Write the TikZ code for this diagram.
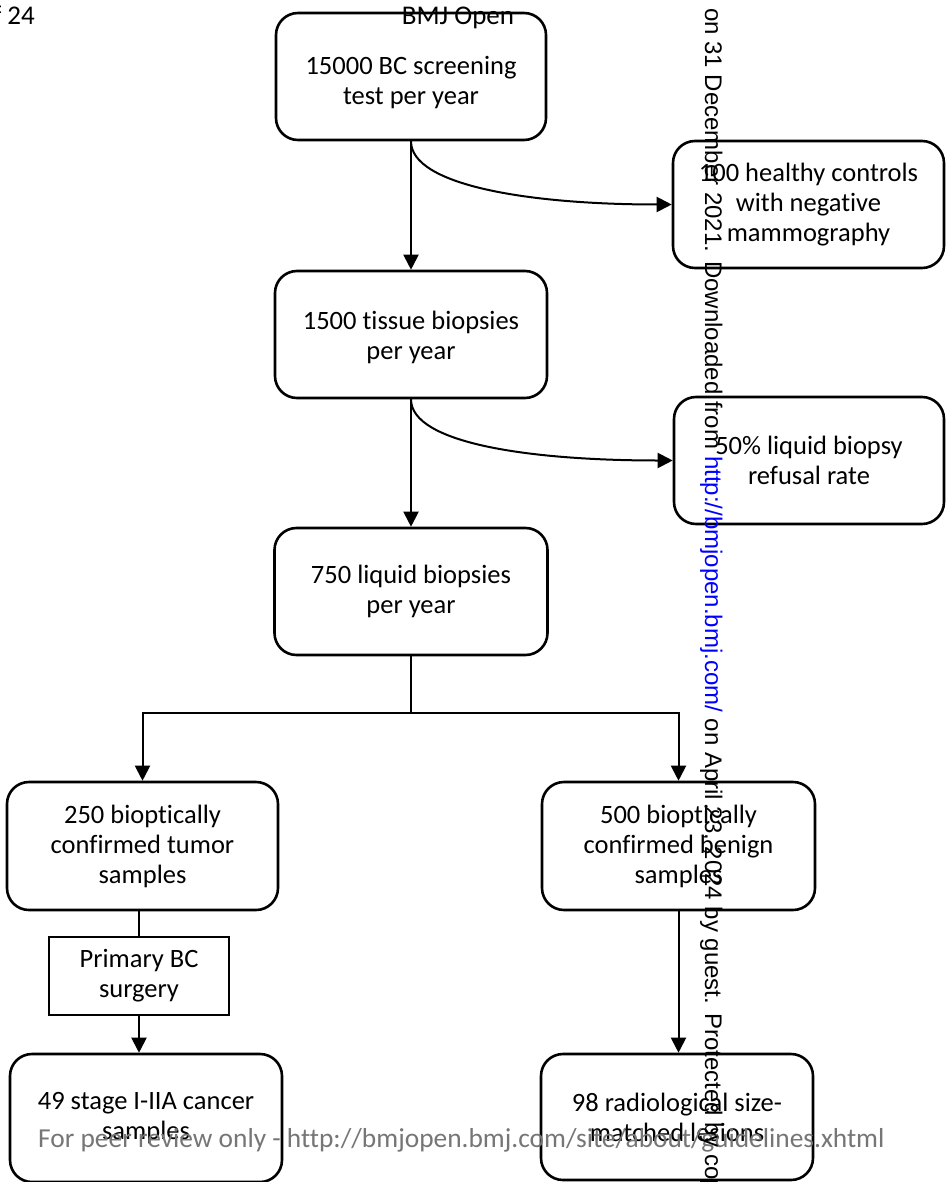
\documentclass[tikz,border=0pt]{standalone}
\usepackage{fontspec}
\setmainfont{Carlito}[Ligatures=NoCommon]
\newfontfamily\arialfont{Liberation Sans}
\usetikzlibrary{arrows.meta}
\definecolor{urlblue}{RGB}{0,0,255}
\definecolor{wmgray}{RGB}{118,118,118}
\newcommand{\lowertext}[2]{\raisebox{-#1}[\height][\depth]{\begin{tabular}{@{}c@{}}#2\end{tabular}}}
\begin{document}
\begin{tikzpicture}[x=1pt,y=-1pt,
  box/.style={draw, line width=2.6pt, rounded corners=22pt, minimum width=270pt,
    minimum height=127pt, align=center, inner sep=0pt,
    font=\fontsize{26.5}{30}\selectfont},
  sqbox/.style={draw, line width=2.2pt, minimum width=180pt, minimum height=78pt,
    align=center, inner sep=0pt, font=\fontsize{26.5}{30}\selectfont},
  arr/.style={line width=2pt, -{Triangle[length=15pt,width=15pt]}},
  thinline/.style={line width=1.4pt},
  wm/.style={inner sep=0pt, font=\fontsize{27}{30}\selectfont}]
\useasboundingbox (0,0) rectangle (945,1182);
\fill[white] (0,0) rectangle (945,1182);

\node[box] (A) at (411,76.5) {\lowertext{7pt}{15000 BC screening\\test per year}};
\node[box, minimum width=271pt] (B) at (808.5,204.5) {100 healthy controls\\with negative\\mammography};
\node[box, minimum width=272pt] (C) at (411,334.5) {\lowertext{4pt}{1500 tissue biopsies\\per year}};
\node[box] (D) at (809,460.5) {50\% liquid biopsy\\refusal rate};
\node[box, minimum width=273pt] (E) at (411,591.5) {750 liquid biopsies\\per year};
\node[box, minimum width=271pt, minimum height=128pt] (F) at (142.5,846) {250 bioptically\\confirmed tumor\\samples};
\node[box, minimum width=273pt, minimum height=128pt] (G) at (678.5,846) {500 bioptically\\confirmed benign\\samples};
\node[sqbox] (H) at (139,976) {Primary BC\\surgery};
\node[box, minimum width=272pt, minimum height=128pt] (I) at (146,1118) {49 stage I-IIA cancer\\samples};
\node[box, minimum width=272pt, minimum height=126pt] (J) at (677,1117) {98 radiological size-\\matched lesions};

\draw[arr] (A.south) -- (C.north);
\draw[arr] (A.south) .. controls +(0,44) and +(-143,0) .. (B.west);
\draw[arr] (C.south) -- (E.north);
\draw[arr] (C.south) .. controls +(0,44) and +(-143,0) .. (D.west);
\coordinate (split) at (411,713);
\draw[thinline] (E.south) -- (split);
\draw[arr] (split) -| (F.north);
\draw[arr] (split) -| (G.north);
\draw[thinline] (H.north |- F.south) -- (H.north);
\draw[arr] (H.south) -- (H.south |- I.north);
\draw[arr] (G.south) -- (G.south |- J.north);

\node[wm, anchor=base east] (pg) at (35,25) {of 24};
\node[wm, anchor=base] (bmj) at (458,25) {BMJ Open};
\node[wm, anchor=base west, text=wmgray, font=\fontsize{27.4}{30}\selectfont] (foot) at (38,1147) {For peer review only - http://bmjopen.bmj.com/site/about/guidelines.xhtml};
\node[inner sep=0pt, font=\arialfont\fontsize{24}{28}\selectfont, rotate=-90, anchor=base west] (side) at (705,8)
  {on 31 December 2021. Downloaded from \textcolor{urlblue}{http://bmjopen.bmj.com/} on April 23, 2024 by guest. Protected by copyright.};
\end{tikzpicture}
\end{document}
